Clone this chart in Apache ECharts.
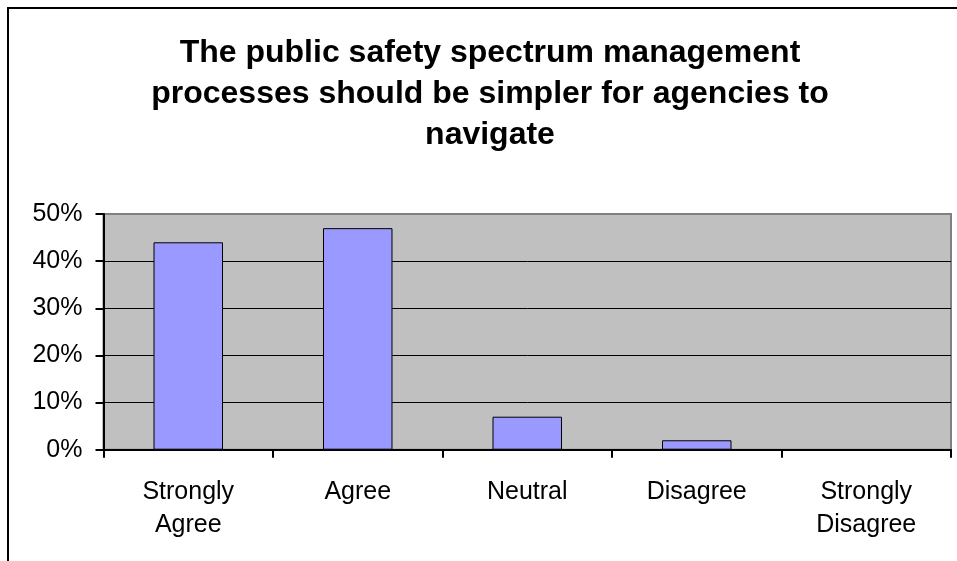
<!DOCTYPE html>
<html>
<head>
<meta charset="utf-8">
<style>html,body{margin:0;padding:0;background:#fff;}#c{width:957px;height:561px;}</style>
<script src="https://cdn.jsdelivr.net/npm/echarts@6/dist/echarts.min.js"></script>
</head>
<body>
<div id="c"></div>
<script>
var titleText = 'The public safety spectrum management\nprocesses should be simpler for agencies to\nnavigate';
var categories = ['Strongly\nAgree', 'Agree', 'Neutral', 'Disagree', 'Strongly\nDisagree'];
var values = [44, 47, 7, 2, 0];
var yTicks = [0, 10, 20, 30, 40, 50];

var chart = echarts.init(document.getElementById('c'));
chart.setOption({
  animation: false,
  backgroundColor: '#ffffff',
  textStyle: { fontFamily: 'Liberation Sans, Arial, sans-serif' },
  title: {
    text: titleText,
    left: 490,
    top: 33,
    textAlign: 'center',
    padding: 0,
    textStyle: { fontSize: 32, fontWeight: 'bold', color: '#000', lineHeight: 41, fontFamily: 'Liberation Sans, Arial, sans-serif' }
  },
  graphic: [{
    type: 'rect',
    shape: { x: 8, y: 8, width: 1200, height: 1200 },
    style: { fill: 'none', stroke: '#000', lineWidth: 2 },
    z: 100
  }],
  grid: {
    left: 103.5, top: 214, right: 6, bottom: 111.3,
    show: true, backgroundColor: '#C0C0C0', borderColor: '#808080', borderWidth: 2
  },
  xAxis: {
    type: 'category',
    data: categories,
    axisLine: { lineStyle: { color: '#000', width: 2 } },
    axisTick: { show: true, length: 8, lineStyle: { color: '#000', width: 2 } },
    axisLabel: { color: '#000', fontSize: 25, lineHeight: 33, margin: 26, interval: 0, fontFamily: 'Liberation Sans, Arial, sans-serif' },
    splitLine: { show: false }
  },
  yAxis: {
    type: 'value',
    min: yTicks[0],
    max: yTicks[yTicks.length - 1],
    interval: 10,
    axisLine: { show: true, lineStyle: { color: '#000', width: 2 } },
    axisTick: { show: true, length: 8, lineStyle: { color: '#000', width: 2 } },
    axisLabel: { color: '#000', fontSize: 25, margin: 21, formatter: '{value}%', fontFamily: 'Liberation Sans, Arial, sans-serif' },
    splitLine: { show: true, lineStyle: { color: ['#000', '#000', '#000', '#000', '#000', '#808080'], width: 1 } }
  },
  series: [{
    type: 'bar',
    data: values,
    barWidth: '41%',
    itemStyle: { color: '#9999FF', borderColor: '#000', borderWidth: 1 }
  }]
});
</script>
</body>
</html>
